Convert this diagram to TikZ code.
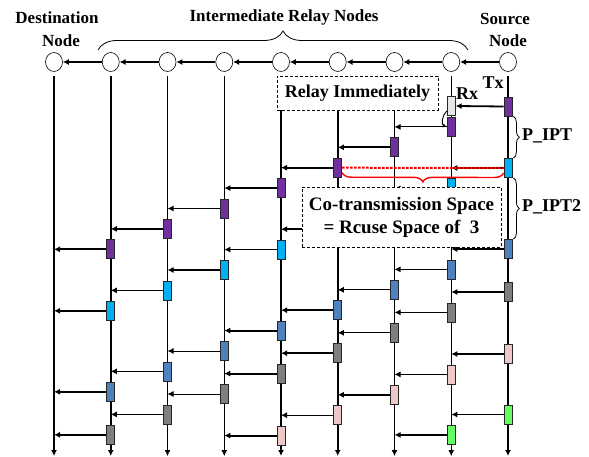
\documentclass[tikz,border=0pt]{standalone}
\usepackage{fontspec}
\setmainfont{Liberation Serif}
\usetikzlibrary{arrows.meta,shapes.geometric,decorations.pathreplacing}
\definecolor{pktpurple}{HTML}{7030A0}
\definecolor{pktcyan}{HTML}{00B0F0}
\definecolor{pktblue}{HTML}{4F81BD}
\definecolor{pktgray}{HTML}{7F7F7F}
\definecolor{pktpink}{HTML}{EDC8C6}
\definecolor{pktgreen}{HTML}{66FF66}
\definecolor{rxgray}{HTML}{E6E6E6}

\begin{document}
\begin{tikzpicture}[x=1pt, y=1pt,
  relay/.style={ellipse, draw, line width=0.6pt, minimum width=17pt, minimum height=19pt, inner sep=0pt},
  slot/.style={rectangle, draw=black!85, line width=0.8pt, minimum width=8pt, minimum height=19pt, inner sep=0pt},
  hop/.style={-{Latex[length=6pt,width=6pt]}},
  lbl/.style={font=\bfseries\fontsize{17}{20}\selectfont, inner sep=0pt},
  note/.style={draw, dash pattern=on 3pt off 2pt, line width=0.8pt, fill=white, align=center,
    font=\bfseries\fontsize{18}{22.5}\selectfont}]

  \useasboundingbox (0,0) rectangle (589,-457);

  % Relay chain
  \foreach \k in {0,...,8} {
    \node[relay] (c\k) at ({508-56.75*\k},-62) {};
    \coordinate (bot\k) at ({508-56.75*\k},-456);
  }
  \foreach \k [count=\kk from 1] in {0,...,7}
    \draw[hop, line width=1.7pt] (c\k) -- (c\kk);

  % Time lines
  \foreach \k/\w in {0/1.8,1/0.8,2/0.8,3/1.8,4/1.8,5/0.8,6/0.8,7/1.8,8/1.8}
    \draw[hop, line width=\w pt, shorten <=4pt] (c\k.south) -- (bot\k);

  % First packet at the source and its reception
  \node[slot, fill=rxgray] (rx) at ({508-56.75},-106) {};
  \node[slot, fill=pktpurple] (pktpurple0) at (508,-106.5) {};
  \draw[hop, line width=1.8pt] (pktpurple0.west) -- (rx.east);

  % Packets, one hop every 20.4
  \foreach \c/\t/\ws in {
      pktpurple/106.5/{1/0.9,2/1.8,3/1.8,4/1.8,5/1.8,6/1.8,7/1.8},
      pktcyan/168/{0/1.8,1/1.8,2/1.8,3/1.8,4/1.8,5/1.8,6/1.8,7/1.8},
      pktblue/249/{0/1.8,1/1.8,2/0.9,3/1.8,4/1.8,5/0.9,6/1.8,7/1.8},
      pktgray/292/{0/1.8,1/1.8,2/0.9,3/1.8,4/1.8,5/0.9,6/1.8,7/1.8},
      pktpink/354/{0/1.8,1/0.9,2/1.8,3/0.9,4/1.8},
      pktgreen/414.5/{0/1.8,1/1.8}}
    \foreach \k/\w in \ws {
      \pgfmathtruncatemacro\kk{\k+1}
      \node[slot, fill=\c] (\c\k) at ({508-56.75*\k},{-\t-20.4*\k}) {};
      \draw[hop, line width=\w pt] (\c\k.west) -- (\c\k.west -| c\kk);
    }
  \draw[-{Latex[length=4pt,width=4pt]}, line width=0.9pt] ([yshift=5pt]rx.south west)
    to[out=220,in=160] (pktpurple1.west);

  % Co-transmission
  \draw[red, line width=2pt, dash pattern=on 2.5pt off 1.5pt] (pktpurple3.east) -- (pktcyan0.west);
  \draw[red, line width=1.4pt, decorate, decoration={brace, amplitude=9pt}]
    ([yshift=-5pt]pktcyan0.west) -- ([yshift=-5pt]pktpurple3.east);

  % Periods
  \draw[decorate, decoration={brace, amplitude=6pt}, line width=0.8pt]
    ([xshift=1pt]pktpurple0.south east) -- ([xshift=1pt]pktcyan0.north east);
  \draw[decorate, decoration={brace, amplitude=6pt}, line width=0.8pt]
    ([xshift=1pt]pktcyan0.south east) -- ([xshift=1pt]pktblue0.north east);
  \draw[decorate, decoration={brace, amplitude=19pt}, line width=0.8pt] (98,-50) -- (468,-50);

  % Notes
  \node[note, minimum width=161pt, minimum height=34pt] (relaybox) at (357.5,-93) {Relay Immediately};
  \node[note, minimum width=199pt, minimum height=60pt, font=\bfseries\fontsize{19}{23}\selectfont]
    (cobox) at (401.5,-217) {Co-transmission Space\\= Rcuse Space of\ \ 3};

  % Labels
  \node[lbl, anchor=base] (dest) at (57,-24) {Destination};
  \node[lbl, anchor=base] (destnode) at (61,-47) {Node};
  \node[lbl, anchor=base] (relays) at (284,-22) {Intermediate Relay Nodes};
  \node[lbl, anchor=base] (src) at (505,-25) {Source};
  \node[lbl, anchor=base] (srcnode) at (508,-47) {Node};
  \node[lbl, anchor=base, font=\bfseries\fontsize{18}{20}\selectfont] (tx) at (493,-89) {Tx};
  \node[lbl, anchor=base, font=\bfseries\fontsize{18}{20}\selectfont] (rxlbl) at (467,-100) {Rx};
  \node[lbl, anchor=base west, font=\bfseries\fontsize{18}{20}\selectfont] (ipt) at (522,-141) {P\_IPT};
  \node[lbl, anchor=base west, font=\bfseries\fontsize{18}{20}\selectfont] (ipt2) at (522,-212) {P\_IPT2};
\end{tikzpicture}
\end{document}
